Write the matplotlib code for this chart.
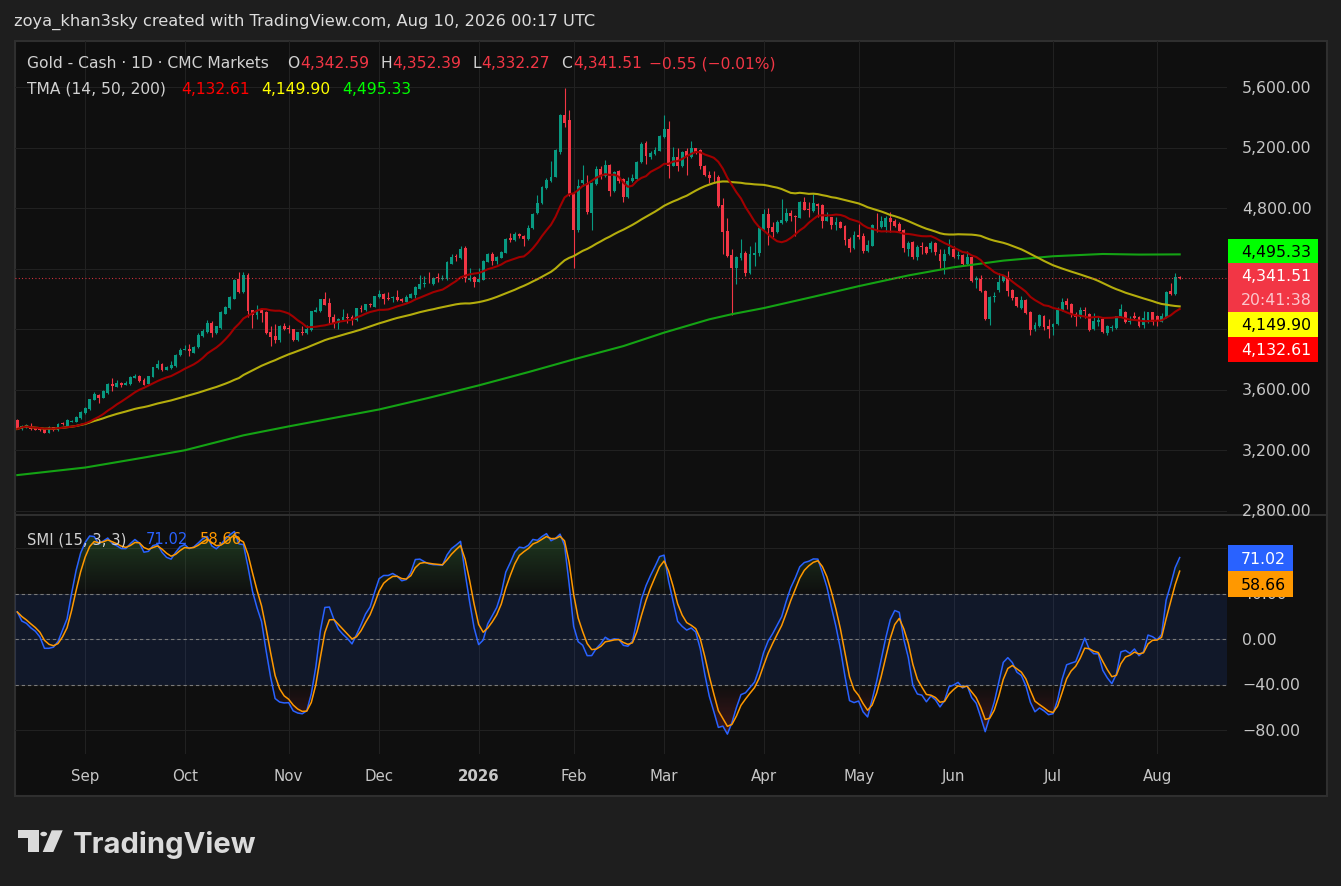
import numpy as np
import pandas as pd
import matplotlib
matplotlib.use("Agg")
import matplotlib.pyplot as plt
import matplotlib.transforms as mtransforms
from matplotlib.path import Path
from matplotlib.patches import Rectangle, Polygon, Circle
from matplotlib.lines import Line2D

# ---------------------------------------------------------------- data
first_day = "2025-08-11"
last_day = "2026-08-10"
closed_days = ["2025-12-25", "2026-01-01", "2026-04-03"]

opens = [
    3398, 3341, 3352, 3356, 3345, 3340, 3345, 3316, 3352, 3334,
    3380, 3358, 3389, 3389, 3411, 3444, 3472, 3534, 3567, 3547,
    3576, 3637, 3620, 3646, 3633, 3637, 3679, 3692, 3666, 3640,
    3686, 3741, 3769, 3732, 3747, 3758, 3828, 3864, 3872, 3846,
    3883, 3954, 3980, 4040, 3976, 4009, 4103, 4138, 4202, 4330,
    4246, 4356, 4125, 4094, 4132, 4112, 3980, 3954, 3927, 4024,
    4006, 4000, 3929, 3980, 3976, 3996, 4116, 4119, 4198, 4171,
    4083, 4040, 4059, 4077, 4079, 4059, 4141, 4125, 4165, 4149,
    4211, 4231, 4204, 4204, 4213, 4202, 4183, 4209, 4224, 4268,
    4299, 4334, 4300, 4345, 4330, 4330, 4435, 4483, 4470, 4538,
    4328, 4344, 4315, 4328, 4447, 4500, 4452, 4474, 4507, 4604,
    4588, 4630, 4619, 4595, 4667, 4770, 4833, 4932, 4983, 5009,
    5175, 5417, 5384, 4895, 4659, 4966, 4967, 4771, 4960, 5060,
    5016, 5086, 4917, 5047, 4994, 4877, 4981, 4994, 5104, 5230,
    5139, 5159, 5181, 5269, 5325, 5082, 5137, 5078, 5178, 5138,
    5196, 5184, 5080, 5022, 5009, 5007, 4822, 4649, 4489, 4402,
    4469, 4507, 4373, 4491, 4502, 4662, 4762, 4676, 4644, 4702,
    4716, 4769, 4751, 4738, 4844, 4798, 4784, 4827, 4822, 4718,
    4740, 4689, 4707, 4684, 4596, 4536, 4622, 4616, 4518, 4553,
    4698, 4678, 4676, 4738, 4716, 4693, 4655, 4533, 4575, 4476,
    4551, 4542, 4531, 4571, 4498, 4454, 4498, 4531, 4482, 4491,
    4432, 4476, 4328, 4333, 4253, 4068, 4211, 4262, 4317, 4337,
    4260, 4211, 4141, 4196, 4112, 4003, 4020, 4086, 4022, 4013,
    4035, 4128, 4187, 4170, 4101, 4079, 4128, 4101, 4002, 4051,
    4068, 3976, 4006, 4006, 4086, 4117, 4051, 4090, 4084, 4028,
    4064, 4112, 4086, 4051, 4079, 4253, 4233, 4342.59,
]
highs = [
    3407, 3365, 3372, 3380, 3349, 3356, 3350, 3358, 3356, 3380,
    3385, 3404, 3400, 3426, 3459, 3483, 3542, 3587, 3570, 3597,
    3648, 3677, 3664, 3650, 3659, 3690, 3703, 3697, 3679, 3694,
    3753, 3795, 3780, 3755, 3791, 3837, 3877, 3894, 3901, 3890,
    3974, 4000, 4059, 4057, 4025, 4118, 4152, 4218, 4330, 4382,
    4382, 4373, 4130, 4158, 4143, 4118, 4020, 4033, 4030, 4044,
    4026, 4005, 3985, 4022, 4026, 4124, 4147, 4203, 4244, 4209,
    4099, 4077, 4132, 4110, 4097, 4143, 4160, 4170, 4171, 4223,
    4261, 4242, 4246, 4220, 4257, 4207, 4224, 4240, 4286, 4356,
    4352, 4378, 4343, 4374, 4356, 4449, 4501, 4501, 4549, 4552,
    4403, 4355, 4408, 4459, 4503, 4509, 4487, 4518, 4602, 4635,
    4641, 4637, 4624, 4692, 4770, 4888, 4948, 5001, 5115, 5193,
    5422, 5595, 5450, 4905, 4993, 5089, 5022, 4975, 5078, 5078,
    5119, 5092, 5049, 5051, 5003, 5005, 5027, 5111, 5241, 5247,
    5181, 5203, 5285, 5417, 5377, 5203, 5199, 5180, 5200, 5244,
    5200, 5190, 5085, 5044, 5049, 5018, 4867, 4733, 4533, 4482,
    4600, 4515, 4551, 4580, 4684, 4796, 4800, 4707, 4722, 4862,
    4800, 4789, 4756, 4851, 4876, 4840, 4896, 4833, 4827, 4773,
    4745, 4740, 4718, 4690, 4607, 4651, 4695, 4636, 4589, 4695,
    4769, 4749, 4747, 4773, 4729, 4707, 4660, 4586, 4586, 4557,
    4575, 4553, 4586, 4580, 4531, 4531, 4597, 4553, 4520, 4496,
    4518, 4481, 4355, 4359, 4258, 4222, 4244, 4372, 4359, 4388,
    4265, 4216, 4222, 4201, 4118, 4050, 4101, 4092, 4068, 4040,
    4145, 4205, 4205, 4175, 4116, 4145, 4145, 4106, 4108, 4090,
    4073, 4030, 4028, 4090, 4167, 4122, 4086, 4117, 4090, 4119,
    4117, 4117, 4092, 4108, 4250, 4306, 4372, 4352.39,
]
lows = [
    3338, 3336, 3349, 3335, 3332, 3330, 3312, 3312, 3330, 3330,
    3368, 3355, 3385, 3386, 3408, 3441, 3468, 3530, 3512, 3543,
    3572, 3593, 3617, 3617, 3630, 3633, 3676, 3652, 3630, 3636,
    3682, 3738, 3726, 3728, 3736, 3754, 3824, 3860, 3824, 3842,
    3879, 3950, 3976, 3949, 3970, 4003, 4098, 4133, 4198, 4240,
    4240, 4083, 4006, 4066, 4048, 3968, 3890, 3912, 3916, 3995,
    3978, 3922, 3925, 3960, 3972, 3992, 4112, 4115, 4158, 4037,
    4009, 4000, 4055, 4044, 4026, 4055, 4114, 4120, 4147, 4145,
    4207, 4165, 4196, 4180, 4186, 4180, 4178, 4204, 4206, 4264,
    4281, 4303, 4295, 4312, 4325, 4325, 4430, 4450, 4466, 4311,
    4322, 4282, 4310, 4323, 4442, 4425, 4430, 4469, 4502, 4577,
    4583, 4606, 4553, 4590, 4662, 4765, 4828, 4927, 4976, 5004,
    5159, 5340, 4880, 4405, 4640, 4950, 4765, 4659, 4955, 4994,
    5010, 4884, 4910, 4970, 4844, 4870, 4972, 4990, 5099, 5093,
    5126, 5150, 5176, 5264, 4998, 5078, 5049, 5072, 5018, 5132,
    5160, 5058, 5012, 4969, 4969, 4808, 4496, 4478, 4096, 4302,
    4460, 4351, 4368, 4418, 4484, 4656, 4556, 4607, 4638, 4698,
    4710, 4718, 4618, 4733, 4786, 4740, 4778, 4740, 4673, 4713,
    4662, 4658, 4668, 4556, 4511, 4530, 4600, 4502, 4512, 4548,
    4640, 4672, 4640, 4645, 4676, 4640, 4511, 4484, 4465, 4460,
    4498, 4498, 4509, 4491, 4403, 4368, 4493, 4470, 4465, 4427,
    4427, 4311, 4271, 4248, 4063, 4029, 4178, 4249, 4310, 4222,
    4195, 4150, 4135, 4100, 3962, 3991, 4015, 3998, 3945, 3962,
    4030, 4123, 4134, 4079, 4024, 4074, 4073, 3991, 3997, 4024,
    3975, 3962, 3991, 4000, 4080, 4042, 4033, 4064, 4018, 4006,
    4042, 4029, 4024, 4046, 4074, 4228, 4228, 4332.27,
]
closes = [
    3341, 3362, 3369, 3338, 3336, 3336, 3316, 3354, 3334, 3376,
    3371, 3400, 3396, 3422, 3455, 3479, 3538, 3569, 3545, 3593,
    3637, 3624, 3644, 3633, 3648, 3686, 3694, 3657, 3635, 3690,
    3749, 3769, 3730, 3751, 3762, 3833, 3864, 3872, 3857, 3886,
    3960, 3991, 4042, 3974, 4020, 4112, 4147, 4213, 4325, 4246,
    4356, 4121, 4094, 4125, 4110, 3973, 3947, 3927, 4024, 4000,
    4002, 3927, 3980, 3974, 4002, 4119, 4129, 4198, 4163, 4079,
    4039, 4066, 4079, 4073, 4059, 4138, 4134, 4165, 4160, 4218,
    4231, 4198, 4200, 4213, 4191, 4185, 4215, 4235, 4281, 4299,
    4308, 4330, 4338, 4338, 4340, 4444, 4479, 4479, 4534, 4337,
    4339, 4315, 4333, 4454, 4498, 4454, 4476, 4513, 4597, 4588,
    4630, 4615, 4595, 4670, 4765, 4835, 4943, 4990, 5007, 5188,
    5417, 5366, 4895, 4659, 4950, 4987, 4773, 4967, 5060, 5016,
    5086, 4917, 5038, 4983, 4877, 4981, 5000, 5106, 5225, 5144,
    5166, 5188, 5280, 5325, 5082, 5137, 5078, 5175, 5138, 5196,
    5173, 5080, 5018, 5002, 5004, 4813, 4644, 4484, 4402, 4476,
    4507, 4369, 4496, 4507, 4669, 4762, 4669, 4644, 4711, 4722,
    4769, 4747, 4740, 4844, 4791, 4791, 4833, 4818, 4718, 4742,
    4689, 4707, 4673, 4589, 4536, 4622, 4609, 4518, 4556, 4689,
    4693, 4716, 4736, 4711, 4682, 4649, 4536, 4572, 4476, 4542,
    4546, 4505, 4571, 4509, 4454, 4498, 4542, 4476, 4491, 4432,
    4476, 4322, 4337, 4253, 4068, 4216, 4222, 4310, 4350, 4256,
    4207, 4156, 4196, 4108, 3998, 4028, 4094, 4013, 4002, 4035,
    4128, 4183, 4161, 4101, 4079, 4128, 4121, 3996, 4057, 4064,
    3980, 4024, 4013, 4086, 4134, 4051, 4057, 4077, 4024, 4072,
    4112, 4046, 4057, 4086, 4244, 4233, 4348, 4341.51,
]

# 200-period line (bar index, value)
ma200_bars = [0, 15, 28, 37, 50, 60, 80, 91, 102, 113, 123, 134, 143, 153,
              158, 165, 176, 186, 197, 207, 218, 229, 240, 248, 257]
ma200_vals = [3036, 3086, 3152, 3200, 3299, 3358, 3470, 3547, 3629, 3717,
              3801, 3889, 3978, 4066, 4100, 4140, 4215, 4285, 4356, 4410,
              4454, 4483, 4498, 4494, 4495.33]

# SMI values for the first bars (warm-up period)
smi_head = [24, 16, 14, 10, 7, 2, -8, -8, -7, -2, 8, 18]

price_ticks = [2800, 3200, 3600, 4000, 4400, 4800, 5200, 5600]
smi_ticks = [80, 40, 0, -40, -80]
smi_levels = [40, 0, -40]

symbol_title = "Gold - Cash · 1D · CMC Markets"
ohlc_last = [4342.59, 4352.39, 4332.27, 4341.51]
change_text = "\u22120.55 (\u22120.01%)"
tma_title = "TMA (14, 50, 200)"
tma_last = [4132.61, 4149.90, 4495.33]
smi_title = "SMI (15, 3, 3)"
smi_last = [71.02, 58.66]
countdown = "20:41:38"
header = "zoya_khan3sky created with TradingView.com, Aug 10, 2026 00:17 UTC"

# ---------------------------------------------------------------- derived
dates = pd.bdate_range(first_day, last_day)
dates = dates[~dates.isin(pd.to_datetime(closed_days))]
O = np.array(opens, float); Hh = np.array(highs, float)
L = np.array(lows, float); C = np.array(closes, float)
n = len(C)
x = np.arange(n)

sma14 = pd.Series(C).rolling(14, min_periods=1).mean().values
sma50 = pd.Series(C).rolling(50, min_periods=1).mean().values

def ema(s, span):
    return s.ewm(span=span, adjust=False).mean()

hh = pd.Series(Hh).rolling(15, min_periods=1).max()
ll = pd.Series(L).rolling(15, min_periods=1).min()
rel = pd.Series(C) - (hh + ll) / 2
rng = hh - ll
smi = (200 * ema(ema(rel, 3), 3) / ema(ema(rng, 3), 3)).values
smi[:len(smi_head)] = smi_head
smi_sig = ema(pd.Series(smi), 3).values

# month ticks
ticks = []
for i in range(1, n):
    if dates[i].month != dates[i - 1].month:
        lab = str(dates[i].year) if dates[i].month == 1 else dates[i].strftime("%b")
        ticks.append((i, lab))

# ---------------------------------------------------------------- figure
W, H = 1341, 887
BG_OUT = "#1e1e1e"; BG_IN = "#0f0f0f"; GRID = "#212121"; BORDER = "#2f2f2f"
TXT = "#d1d1d1"; SCALE_TXT = "#c6c6c6"
UP = "#089981"; DOWN = "#F23645"
plt.rcParams["font.family"] = ["DejaVu Sans"]

fig = plt.figure(figsize=(W / 100, H / 100), dpi=100, facecolor=BG_OUT)

def fx(px):
    return px / W

def fy(py):
    return 1 - py / H

def frect(x0, y0, x1, y1, **kw):
    r = Rectangle((fx(x0), fy(y1)), fx(x1) - fx(x0), fy(y0) - fy(y1),
                  transform=fig.transFigure, **kw)
    fig.add_artist(r)
    return r

frect(15, 42, 1327, 797, facecolor=BG_IN, edgecolor=BORDER, lw=1.5, zorder=-10)
fig.add_artist(Line2D([fx(15), fx(1327)], [fy(516), fy(516)], color=BORDER,
                      lw=1.4, transform=fig.transFigure, zorder=1))

PL, PR = 15, 1226.5
P_TOP, P_BOT = 5906.1, 2772.2      # price range of the upper pane (42..516 px)
S_TOP, S_BOT = 109.4, -101.1       # SMI range of the lower pane (516..755 px)
ax_p = fig.add_axes([fx(PL), fy(516), fx(PR) - fx(PL), fy(42) - fy(516)])
ax_s = fig.add_axes([fx(PL), fy(755), fx(PR) - fx(PL), fy(516) - fy(755)])
for ax in (ax_p, ax_s):
    ax.set_axis_off()
    ax.set_xlim(-0.51, 267.35)
ax_p.set_ylim(P_BOT, P_TOP)
ax_s.set_ylim(S_BOT, S_TOP)

def price_px(p):
    return 42 + (P_TOP - p) / (P_TOP - P_BOT) * (516 - 42)

def smi_px(v):
    return 516 + (S_TOP - v) / (S_TOP - S_BOT) * (755 - 516)

# grid
for p in price_ticks:
    ax_p.axhline(p, color=GRID, lw=0.8, zorder=0)
for v in smi_ticks:
    ax_s.axhline(v, color=GRID, lw=0.8, zorder=0)
for i, lab in ticks:
    ax_p.axvline(i, color=GRID, lw=0.8, zorder=0)
    ax_s.axvline(i, color=GRID, lw=0.8, zorder=0)

# moving averages
ax_p.plot(ma200_bars, ma200_vals, color="#14a314", lw=1.5, zorder=5)
ax_p.plot(x, sma50, color="#b4ad0c", lw=1.5, zorder=5)
ax_p.plot(x, sma14, color="#a10000", lw=1.5, zorder=5)

# candles
up = C >= O
cols = np.where(up, UP, DOWN)
ax_p.vlines(x, L, Hh, colors=cols, lw=0.8, zorder=3)
body_lo = np.minimum(O, C)
body_h = np.maximum(np.abs(C - O), 5.0)
ax_p.bar(x, body_h, bottom=body_lo, width=0.64, color=cols, lw=0, zorder=4)

# last price dotted line
ax_p.axhline(C[-1], color=DOWN, lw=0.8, ls=(0, (0.8, 2.2)), zorder=6)

# SMI pane
ax_s.axhspan(-40, 40, color="#2962FF", alpha=0.11, lw=0, zorder=1)

def gradient_fill(ax, xs, ys, level, above, rgb, amax):
    if above:
        mask = ys > level
        lo, hi = level, 110
    else:
        mask = ys < level
        lo, hi = -110, level
    coll = ax.fill_between(xs, ys, level, where=mask, interpolate=True,
                           facecolor="none", edgecolor="none")
    paths = coll.get_paths()
    if len(paths) == 0:
        return
    path = Path.make_compound_path(*paths)
    vals = np.linspace(lo, hi, 256)
    if above:
        a = np.clip((vals - level) / 60.0, 0, 1) * amax
    else:
        a = np.clip((level - vals) / 60.0, 0, 1) * amax
    img = np.zeros((256, 1, 4))
    img[:, 0, 0] = rgb[0]; img[:, 0, 1] = rgb[1]; img[:, 0, 2] = rgb[2]
    img[:, 0, 3] = a
    im = ax.imshow(img, origin="lower", extent=[xs[0], xs[-1], lo, hi],
                   aspect="auto", zorder=2, interpolation="bilinear")
    im.set_clip_path(path, ax.transData)

gradient_fill(ax_s, x.astype(float), smi, 40, True, (0.30, 0.69, 0.31), 0.30)
gradient_fill(ax_s, x.astype(float), smi, -40, False, (0.95, 0.21, 0.27), 0.30)
ax_s.set_xlim(-0.51, 267.35)
ax_s.set_ylim(S_BOT, S_TOP)

for v in smi_levels:
    ax_s.axhline(v, color="#7a7a7a", lw=0.8, ls=(0, (3, 2.6)), zorder=3)
ax_s.plot(x, smi, color="#2962FF", lw=1.1, zorder=5)
ax_s.plot(x, smi_sig, color="#FF9800", lw=1.1, zorder=6)

# ---------------------------------------------------------------- scale labels
SCALE_FS = 11.3
# value boxes stacked on the price scale (pixel spans)
box_spans = [(240, 363.3), (546, 598.3)]

def scale_label(ypx, s):
    top, bot = ypx - 8, ypx + 8
    clip = None
    for c0, c1 in box_spans:
        if top >= c0 and bot <= c1:
            return                         # fully hidden behind value boxes
        if bot > c0 and top < c1:
            if ypx < c0:
                clip = (42, c0)
            else:
                clip = (c1, 797)
    txt = fig.text(fx(1242), fy(ypx), s, color=SCALE_TXT, fontsize=SCALE_FS,
                   ha="left", va="center", zorder=3)
    if clip is not None:
        bb = mtransforms.Bbox.from_extents(fx(1228), fy(clip[1]), fx(1330), fy(clip[0]))
        txt.set_clip_box(mtransforms.TransformedBbox(bb, fig.transFigure))
        txt.set_clip_on(True)

for p in price_ticks:
    scale_label(price_px(p), f"{p:,.2f}")
for v in smi_ticks:
    s = f"{abs(v):.2f}"
    if v < 0:
        s = "\u2212" + s
    scale_label(smi_px(v), s)

tr_t = mtransforms.blended_transform_factory(ax_s.transData, fig.transFigure)
for i, lab in ticks:
    ax_s.text(i, fy(777), lab, transform=tr_t, color=SCALE_TXT, fontsize=10.8,
              ha="center", va="center", clip_on=False,
              fontweight="bold" if lab.isdigit() else "normal")

def vbox(y0, y1, color, lines, tcolors, x1=1318):
    frect(1228, y0, x1, y1, facecolor=color, edgecolor="none", zorder=8)
    k = len(lines)
    for j, (s, tc) in enumerate(zip(lines, tcolors)):
        yc = y0 + (y1 - y0) * (j + 0.5) / k
        fig.text(fx(1241), fy(yc), s, color=tc, fontsize=SCALE_FS, ha="left",
                 va="center", zorder=9)

vbox(240, 264.3, "#00FF00", [f"{tma_last[2]:,.2f}"], ["#000000"])
vbox(264.3, 312.7, "#F23645", [f"{C[-1]:,.2f}", countdown], ["#ffffff", "#fbc7cd"])
vbox(312.7, 338.3, "#FFFF00", [f"{tma_last[1]:,.2f}"], ["#000000"])
vbox(338.3, 363.3, "#FF0000", [f"{tma_last[0]:,.2f}"], ["#ffffff"])
vbox(546, 572, "#2962FF", [f"{smi_last[0]:.2f}"], ["#ffffff"], x1=1293)
vbox(572, 598.3, "#FF9800", [f"{smi_last[1]:.2f}"], ["#000000"], x1=1293)

# ---------------------------------------------------------------- legends
LEG_FS = 11.2
def t(xp, yp, s, c, fs=LEG_FS, **kw):
    fig.text(fx(xp), fy(yp), s, color=c, fontsize=fs, ha="left", va="center", **kw)

t(14, 22, header, "#dcdcdc", fs=11.7)

t(27, 64, symbol_title, TXT)
t(287, 64, "O", TXT); t(300, 64, f"{ohlc_last[0]:,.2f}", DOWN)
t(380, 64, "H", TXT); t(392, 64, f"{ohlc_last[1]:,.2f}", DOWN)
t(472, 64, "L", TXT); t(481, 64, f"{ohlc_last[2]:,.2f}", DOWN)
t(561, 64, "C", TXT); t(573, 64, f"{ohlc_last[3]:,.2f}", DOWN)
t(649, 64, change_text, DOWN)

t(27, 89, tma_title, TXT)
t(181, 89, f"{tma_last[0]:,.2f}", "#FF0000")
t(261, 89, f"{tma_last[1]:,.2f}", "#FFFF00")
t(342, 89, f"{tma_last[2]:,.2f}", "#00FF00")

t(27, 540, smi_title, TXT, fs=10.6)
t(146, 540, f"{smi_last[0]:.2f}", "#2962FF", fs=10.6)
t(200, 540, f"{smi_last[1]:.2f}", "#FF9800", fs=10.6)

# ---------------------------------------------------------------- logo
LOGO = "#dbdbdb"
def fpoly(pts):
    fig.add_artist(Polygon([(fx(a), fy(b)) for a, b in pts], closed=True,
                           transform=fig.transFigure, facecolor=LOGO,
                           edgecolor="none"))
fpoly([(18.3, 831.3), (39.3, 831.3), (39.3, 853), (28.3, 853), (28.3, 838.7), (18.3, 838.7)])
fpoly([(51.7, 831.3), (62.7, 831.3), (53.3, 853), (42.7, 853)])
fig.add_artist(Circle((fx(43.7), fy(835.0)), 3.4 / W, transform=fig.transFigure,
                      facecolor=LOGO, edgecolor="none"))
fig.text(fx(73), fy(853), "TradingView", color=LOGO, fontsize=21,
         fontweight="bold", family=["Inter", "DejaVu Sans"], ha="left",
         va="baseline")

fig.savefig("out.png", dpi=100, facecolor=BG_OUT)
